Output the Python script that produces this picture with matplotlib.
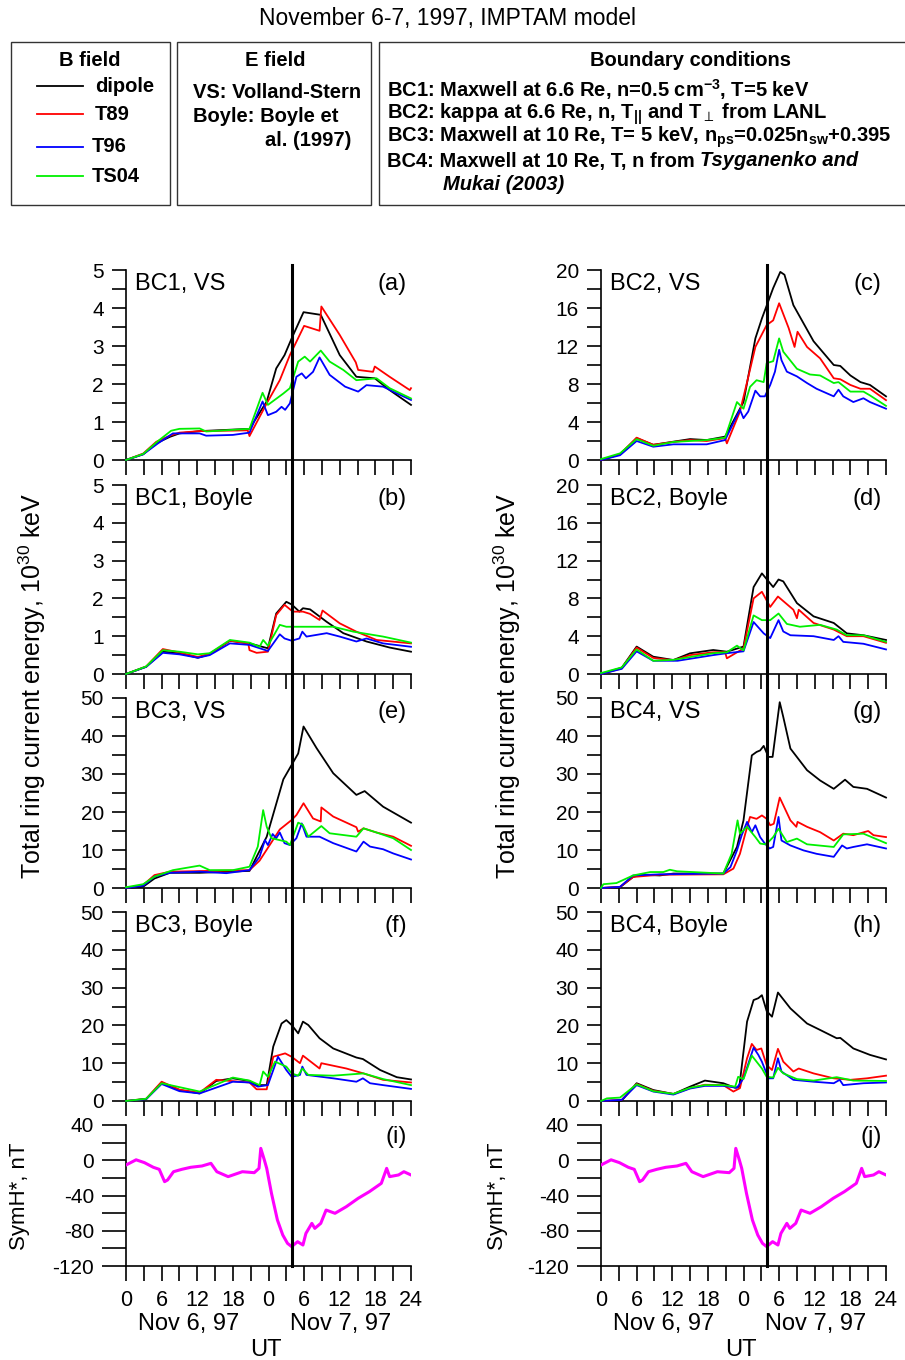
import matplotlib
matplotlib.use("Agg")
import matplotlib.pyplot as plt
import matplotlib.transforms as mtransforms
from matplotlib.patches import Rectangle
from matplotlib.lines import Line2D
from matplotlib.ticker import MultipleLocator, FixedLocator, FixedFormatter, NullFormatter

plt.rcParams['font.family'] = ['Liberation Sans', 'DejaVu Sans']
plt.rcParams['axes.unicode_minus'] = False
plt.rcParams['mathtext.fontset'] = 'custom'
plt.rcParams['mathtext.rm'] = 'Liberation Sans'
plt.rcParams['mathtext.bf'] = 'Liberation Sans:bold'
plt.rcParams['mathtext.it'] = 'Liberation Sans:italic'

# ---------------------------------------------------------------------------
# Data: hours since 00 UT Nov 6, 1997 and total ring current energy (1e30 keV)
# ---------------------------------------------------------------------------
STORM_HOUR = 27.9

X_TICK_LABELS = ['0', '6', '12', '18', '0', '6', '12', '18', '24']
FIELD_MODELS = ['dipole', 'T89', 'T96', 'TS04']
FIELD_COLORS = ['#000000', '#ff0000', '#0000ff', '#00f000']

# (a) BC1, VS
a_dipole = [(0, 0), (2.9, 0.15), (5.1, 0.44), (7.4, 0.61), (9, 0.70), (12.4, 0.76), (20.8, 0.82),
            (23.7, 1.54), (25.3, 2.41), (26.7, 2.76), (27.9, 3.2), (29.9, 3.89), (32.8, 3.82),
            (36, 2.76), (38.8, 2.19), (41.9, 2.15), (44.4, 1.84), (48, 1.45)]
a_t89 = [(0, 0), (2.9, 0.17), (5.1, 0.48), (7.4, 0.64), (9, 0.72), (12.4, 0.76), (20.5, 0.78),
         (20.8, 0.63), (23.7, 1.49), (25.9, 2.1), (27.6, 2.76), (30, 3.53), (32.6, 3.4),
         (32.9, 4.04), (36, 3.29), (38.7, 2.57), (39.1, 2.37), (41.6, 2.32), (41.9, 2.46),
         (44.4, 2.19), (47.8, 1.84), (48, 1.89)]
a_t96 = [(0, 0), (2.9, 0.15), (5.4, 0.44), (7.9, 0.70), (12.4, 0.70), (13.5, 0.64), (18, 0.66),
         (20.8, 0.72), (23, 1.54), (23.9, 1.18), (25.3, 1.27), (26.2, 1.40), (26.8, 1.32),
         (27.6, 1.49), (28.7, 2.19), (29.6, 2.28), (30.3, 2.15), (31.5, 2.32), (32.6, 2.70),
         (34.3, 2.24), (36.9, 1.93), (39.1, 1.80), (40.5, 1.97), (43.3, 1.93), (45, 1.80),
         (48, 1.58)]
a_ts04 = [(0, 0), (2.9, 0.16), (5.4, 0.50), (7.6, 0.77), (9, 0.82), (12.4, 0.83), (13.5, 0.75),
          (20.8, 0.82), (23, 1.77), (23.9, 1.45), (26.5, 1.75), (27.6, 1.89), (29, 2.59),
          (30.1, 2.72), (31, 2.59), (32.8, 2.88), (34.3, 2.59), (36.6, 2.37), (38.8, 2.10),
          (42.2, 2.15), (44.4, 1.89), (48, 1.62)]

# (b) BC1, Boyle
b_dipole = [(0, 0), (3.4, 0.19), (6.2, 0.59), (9, 0.55), (12.1, 0.43), (14.1, 0.52), (17.5, 0.88),
            (20.8, 0.81), (23.9, 0.68), (25.3, 1.60), (27, 1.91), (27.9, 1.84), (29.2, 1.65),
            (29.8, 1.74), (31, 1.71), (33.8, 1.38), (36.6, 1.08), (40.5, 0.86), (44.4, 0.70),
            (48, 0.59)]
b_t89 = [(0, 0), (3.4, 0.20), (6.2, 0.66), (9, 0.57), (12.1, 0.45), (14.1, 0.54), (17.5, 0.88),
         (20.6, 0.80), (20.8, 0.63), (22, 0.56), (23.9, 0.59), (25.3, 1.56), (26.7, 1.83),
         (28.1, 1.65), (29.8, 1.65), (31, 1.59), (32.6, 1.43), (33.1, 1.68), (36, 1.34),
         (38.8, 1.12), (42.2, 0.90), (48, 0.81)]
b_t96 = [(0, 0), (3.4, 0.19), (6.2, 0.56), (9, 0.52), (12.1, 0.43), (14.1, 0.50), (17.5, 0.81),
         (20.8, 0.77), (23.9, 0.61), (25.9, 1.05), (26.7, 0.94), (27.9, 0.88), (29.2, 0.94),
         (29.7, 1.12), (30.4, 0.99), (33.8, 1.08), (36, 0.99), (38.8, 0.86), (40.5, 0.94),
         (43.3, 0.81), (48, 0.72)]
b_ts04 = [(0, 0), (3.4, 0.20), (6.2, 0.63), (9, 0.59), (12.1, 0.52), (14.1, 0.55), (17.5, 0.90),
          (20.8, 0.83), (22.5, 0.72), (23.1, 0.90), (23.9, 0.75), (25.9, 1.30), (27, 1.25),
          (29.2, 1.25), (34.9, 1.25), (38.3, 1.12), (43.3, 0.99), (48, 0.83)]

# (c) BC2, VS
c_dipole = [(0, 0), (3.2, 0.6), (6, 2.3), (8.8, 1.6), (12.2, 1.93), (15, 2.2), (17.8, 2.1),
            (20.9, 2.46), (24, 6.1), (26, 12.8), (27.1, 14.9), (29, 18.1), (30.2, 19.8),
            (30.9, 19.5), (32.4, 16.3), (35.8, 12.5), (39.2, 10.0), (40.3, 9.9), (42, 8.9),
            (43.7, 8.2), (45.3, 7.9), (48, 6.7)]
c_t89 = [(0, 0), (3.2, 0.6), (6, 2.35), (8.8, 1.6), (12.2, 1.9), (15, 2.1), (17.8, 2.0),
         (20.9, 2.3), (21.2, 1.75), (23.4, 5.1), (24.6, 8.2), (26, 11.9), (27.9, 14.2),
         (29, 14.7), (30, 16.5), (31.6, 13.9), (32.6, 11.9), (33.1, 13.5), (34.7, 11.9),
         (36.9, 10.7), (39.2, 8.6), (40.3, 8.5), (42, 7.9), (43.7, 7.5), (45.3, 7.5), (48, 6.3)]
c_t96 = [(0, 0), (3.2, 0.5), (6, 2.0), (8.8, 1.4), (12.2, 1.65), (17.8, 1.65), (20.9, 2.1),
         (23.4, 5.3), (24, 4.4), (24.8, 5.1), (26, 7.3), (26.8, 6.7), (27.6, 6.7), (28.5, 7.9),
         (29.3, 9.3), (30, 11.6), (30.4, 10.5), (31.3, 9.3), (33, 8.8), (34.7, 8.1),
         (36.3, 7.5), (39.2, 6.7), (40, 7.4), (40.8, 6.7), (42.5, 6.1), (44.2, 6.5),
         (45.3, 6.1), (48, 5.4)]
c_ts04 = [(0, 0.1), (3.2, 0.7), (6, 2.2), (8.8, 1.5), (12.2, 1.9), (17.8, 2.1), (20.9, 2.35),
          (22.9, 6.1), (24, 5.4), (25.1, 7.7), (26.2, 8.4), (27.4, 8.2), (27.9, 10.2),
          (29, 10.4), (30, 12.8), (30.7, 11.4), (33, 9.6), (35.2, 9.0), (36.9, 8.9),
          (39.2, 8.1), (40, 8.2), (42, 7.2), (44.2, 7.2), (45.3, 6.8), (48, 5.7)]

# (d) BC2, Boyle
d_dipole = [(0, 0), (3.5, 0.67), (6, 2.9), (8.8, 1.83), (12.2, 1.48), (15, 2.19), (18.9, 2.54),
            (21.2, 2.36), (24, 2.9), (25.7, 9.2), (27.1, 10.65), (29, 9.2), (29.9, 10.0),
            (30.7, 9.8), (33, 7.5), (35.8, 6.1), (39.2, 5.4), (41.4, 4.3), (44.2, 4.1), (48, 3.6)]
d_t89 = [(0, 0), (3.5, 0.6), (6, 2.8), (8.8, 1.7), (12.2, 1.45), (15, 2.0), (18.9, 2.3),
         (20.9, 2.3), (21.2, 1.66), (24, 2.7), (25.7, 8.0), (27.1, 8.7), (28.5, 7.1),
         (29.8, 8.2), (32.4, 6.8), (33, 5.9), (33.3, 6.8), (35.8, 5.4), (39.2, 4.7),
         (41.4, 4.0), (44.2, 4.0), (48, 3.3)]
d_t96 = [(0, 0), (3.5, 0.55), (6, 2.4), (8.8, 1.4), (12.9, 1.4), (18.9, 2.0), (21.2, 2.2),
         (24, 2.4), (25.7, 5.5), (27.4, 4.3), (28.5, 3.8), (29.9, 5.7), (30.7, 4.5),
         (31.9, 4.1), (35.8, 4.0), (39.2, 3.6), (40, 4.0), (40.8, 3.4), (44.2, 3.2), (48, 2.6)]
d_ts04 = [(0, 0.1), (3.5, 0.7), (6, 2.6), (8.8, 1.4), (12.2, 1.5), (18.9, 2.2), (21.2, 2.3),
          (22.9, 3.0), (24, 2.5), (25.7, 6.2), (27.1, 5.7), (28.5, 5.7), (29.9, 6.4),
          (31.3, 5.3), (33.5, 5.0), (36.9, 5.2), (39.7, 4.7), (41.4, 4.1), (44.2, 4.1), (48, 3.4)]

# (e) BC3, VS
e_dipole = [(0, 0), (2.9, 0.35), (4.8, 2.5), (7.4, 4.0), (12.4, 4.0), (20.8, 4.5), (23.7, 13.5),
            (26.5, 28.6), (27.9, 32.4), (29, 35.4), (29.9, 42.5), (32.1, 36.8), (34.9, 30.2),
            (38.8, 24.5), (40.2, 25.5), (43.3, 21.4), (48, 17.2)]
e_t89 = [(0, 0), (2.9, 0.8), (4.8, 3.4), (7.4, 4.3), (20.8, 4.7), (22.5, 7.2), (24.2, 11.3),
         (25.9, 15.4), (27.9, 17.9), (28.7, 19.2), (29.9, 22.3), (31.5, 18.3), (32.8, 17.5),
         (32.9, 21.2), (34.9, 18.8), (38.8, 16.0), (39.1, 14.8), (40, 15.7), (42.2, 14.6),
         (45, 13.5), (48, 11.1)]
e_t96 = [(0, 0), (2.9, 0.6), (4.8, 3.0), (7.4, 4.0), (12.4, 4.3), (16.9, 3.9), (20.8, 4.7),
         (22.5, 8.2), (23.4, 12.6), (23.9, 11.3), (24.7, 14.2), (25.3, 13.1), (25.9, 14.6),
         (26.7, 11.8), (27.6, 11.3), (28.7, 13.1), (29.6, 17.0), (30.4, 13.5), (32.6, 13.5),
         (34.9, 11.8), (38.8, 9.6), (40, 12.2), (41.1, 10.9), (43.3, 10.2), (45, 9.1), (48, 7.5)]
e_ts04 = [(0, 0.2), (2.9, 1.0), (4.8, 3.0), (7.9, 4.7), (12.4, 5.9), (14.1, 4.7), (18, 4.7),
          (20.8, 5.6), (22.2, 10.9), (23.1, 20.5), (23.7, 16.1), (24.5, 13.1), (27, 12.2),
          (27.6, 11.3), (29, 17.2), (29.8, 16.6), (30.7, 13.5), (32.9, 16.3), (34.3, 14.4),
          (38.8, 13.5), (40, 15.7), (42.2, 14.6), (45, 13.1), (48, 10.0)]

# (f) BC3, Boyle
f_dipole = [(0, 0), (3.4, 0.5), (6, 4.9), (9, 2.9), (12.4, 2.0), (15.2, 5.3), (18, 6.0),
            (20.8, 5.3), (22, 4.2), (23.7, 4.2), (24.8, 14.4), (26.2, 20.5), (27, 21.4),
            (27.9, 20.1), (29, 17.9), (29.8, 21.0), (30.7, 20.1), (32.6, 16.6), (34.9, 13.9),
            (38.8, 11.5), (39.9, 11.1), (42.8, 8.2), (45.6, 6.3), (48, 5.7)]
f_t89 = [(0, 0), (3.4, 0.6), (6, 5.1), (9, 3.0), (12.4, 2.2), (15.2, 5.6), (20.8, 4.9),
         (22, 3.1), (23.7, 3.1), (24.8, 11.7), (26.8, 12.6), (27.9, 11.7), (29.3, 10.0),
         (29.8, 12.0), (32.6, 8.6), (32.9, 10.0), (37.1, 8.6), (40, 7.3), (43.3, 5.6), (48, 4.9)]
f_t96 = [(0, 0), (3.4, 0.5), (6, 4.5), (9, 2.6), (12.4, 2.0), (18, 5.1), (20.8, 4.9),
         (22.2, 3.8), (23.9, 4.2), (25.6, 11.7), (27, 8.2), (27.9, 6.4), (29.3, 6.9),
         (29.7, 9.1), (30.4, 6.9), (34.9, 6.0), (38.8, 5.1), (39.9, 6.0), (41.1, 4.7),
         (43.3, 4.2), (48, 3.2)]
f_ts04 = [(0, 0), (3.4, 0.6), (6, 4.7), (12.4, 2.5), (18, 6.2), (20.8, 5.4), (22.5, 4.2),
          (23.1, 7.8), (23.9, 6.4), (25.1, 10.4), (27, 9.1), (27.9, 7.3), (29, 6.7),
          (29.7, 8.6), (30.7, 6.9), (34.9, 6.7), (40, 7.3), (43.3, 5.8), (48, 4.2)]

# (g) BC4, VS
g_dipole = [(0, 0), (3.2, 0.2), (5.4, 2.9), (6.6, 3.5), (9.9, 3.3), (12.2, 3.8), (20.6, 3.8),
            (22.9, 10.8), (24, 17.8), (25.4, 34.9), (26.2, 35.8), (26.8, 36.2), (27.4, 37.4),
            (28.2, 34.5), (28.9, 34.5), (30.1, 48.9), (30.7, 45.0), (31.9, 36.7), (34.7, 31.0),
            (36.9, 28.3), (39.2, 26.1), (41.1, 28.5), (42.5, 26.6), (44.8, 26.1), (48, 23.8)]
g_t89 = [(0, 0), (3.2, 0.3), (5.4, 2.9), (9.9, 3.5), (20.6, 3.6), (22.3, 5.1), (23.4, 9.0),
         (24.3, 14.3), (25.1, 18.7), (26.2, 18.2), (27.1, 19.1), (27.9, 18.2), (28.5, 16.5),
         (29.1, 16.9), (30.1, 23.8), (30.7, 21.8), (31.9, 17.8), (32.9, 16.1), (33.1, 17.4),
         (34.7, 16.1), (36.9, 14.7), (39.2, 12.5), (40.8, 14.3), (42.5, 13.9), (45, 15.0),
         (45.9, 13.9), (48, 13.4)]
g_t96 = [(0, 0), (3.2, 0.3), (5.4, 3.3), (9.9, 3.6), (20.6, 3.8), (21.8, 5.5), (22.9, 9.9),
         (23.7, 13.9), (24.6, 17.4), (25.4, 14.7), (26, 16.5), (26.8, 13.4), (27.6, 11.7),
         (28.4, 10.4), (29, 10.8), (29.9, 18.7), (30.4, 12.5), (31.9, 11.2), (34.1, 9.9),
         (36.3, 9.0), (39.2, 8.2), (40.6, 11.2), (41.4, 10.4), (42.5, 10.8), (44.8, 11.5),
         (48, 10.4)]
g_ts04 = [(0, 0), (0.4, 1.0), (2.6, 1.3), (5.4, 3.3), (8.3, 4.2), (10.5, 4.2), (11.6, 4.8),
          (12.8, 4.4), (20.6, 3.8), (22, 9.0), (23, 17.8), (23.4, 14.3), (24.6, 16.1),
          (26, 13.4), (26.8, 11.7), (27.6, 11.5), (28.2, 12.1), (29, 13.4), (29.9, 15.6),
          (31.3, 12.1), (33, 13.0), (34.7, 11.5), (39.2, 10.8), (40.8, 14.1), (44.2, 14.3),
          (48, 11.8)]

# (h) BC4, Boyle
h_dipole = [(0, 0), (3.5, 0.1), (6, 4.7), (8.8, 2.9), (12.2, 1.85), (15, 3.8), (17.5, 5.4),
            (20.6, 4.7), (22.6, 3.5), (23.3, 3.8), (24.6, 21.0), (25.7, 26.7), (26.5, 27.2),
            (27.1, 28.0), (27.9, 23.8), (28.8, 22.3), (29.8, 28.7), (31.9, 24.5), (34.7, 20.5),
            (36.9, 18.8), (39.7, 16.6), (40.3, 16.7), (42.5, 13.9), (45.3, 12.2), (48, 11.0)]
h_t89 = [(0, 0), (3.5, 0.3), (6, 4.5), (8.8, 2.7), (12.2, 1.85), (15, 3.4), (17.5, 4.3),
         (20.6, 4.2), (22.3, 2.5), (23.4, 3.4), (24.6, 11.3), (25.4, 15.1), (26.2, 13.5),
         (27, 13.9), (27.9, 9.5), (28.8, 8.2), (29.8, 13.8), (30.7, 10.4), (32.4, 7.8),
         (33.3, 8.6), (35.8, 7.3), (39.2, 6.0), (42, 5.6), (44.8, 6.0), (48, 6.7)]
h_t96 = [(0, 0), (3.5, 0.3), (6, 4.2), (8.8, 2.5), (12.2, 1.7), (15, 3.3), (17.5, 4.0),
         (20.6, 4.0), (22.9, 3.5), (24, 6.0), (25.7, 14.1), (26.5, 12.2), (27.1, 10.4),
         (28.2, 6.0), (29, 6.0), (29.8, 11.3), (30.4, 7.8), (32.4, 5.6), (35.8, 5.1),
         (39.2, 4.7), (40.2, 5.6), (40.8, 4.2), (44.2, 4.7), (48, 4.9)]
h_ts04 = [(0, 0), (1, 0.7), (3.2, 0.9), (6, 4.4), (8.8, 2.6), (12.2, 1.9), (15, 3.5),
          (17.5, 4.2), (20.6, 4.2), (22.6, 3.8), (23.1, 6.4), (24, 5.8), (25.4, 12.0),
          (26.2, 10.4), (27.1, 8.6), (27.9, 6.4), (29, 6.2), (29.8, 8.8), (30.7, 7.3),
          (33, 5.8), (35.8, 5.4), (39.7, 6.3), (42.5, 5.4), (48, 5.3)]

# SymH* index (nT)
symh = [(0, -5.4), (1.7, 0.5), (3.1, -2.7), (4.6, -8.0), (5.6, -10.3), (6.5, -24.3), (7.0, -22.4),
        (8.0, -13.0), (9.4, -10.3), (10.9, -8.0), (12.8, -6.5), (14.3, -3.5), (15.3, -13.0),
        (17.2, -18.6), (19.6, -13.0), (21.6, -14.1), (22.4, -9.2), (22.7, 13.5), (23.3, 0.3),
        (23.7, -9.2), (24.5, -37.5), (25.5, -67.8), (26.4, -84.8), (27.2, -94.3), (27.9, -98.0),
        (28.9, -92.4), (29.8, -96.2), (30.3, -83.0), (31.3, -71.6), (31.8, -77.3), (32.8, -71.6),
        (33.7, -56.5), (35.2, -60.2), (37.1, -52.7), (39.1, -43.2), (41.0, -35.6), (43.0, -26.2),
        (43.9, -9.2), (44.4, -18.6), (45.9, -16.7), (46.8, -13.0), (48, -16.7)]

# ---------------------------------------------------------------------------
W, H = 905, 1360
fig = plt.figure(figsize=(W / 100, H / 100), dpi=100)


def fx(px):
    return px / W


def fy(py):
    return 1 - py / H


def make_axes(left_px, top_px, bottom_px):
    return fig.add_axes([fx(left_px), fy(bottom_px), fx(left_px + 285) - fx(left_px),
                         fy(top_px) - fy(bottom_px)])


TICK_FS = 15


def style_axes(ax, ylim, major, minor, show_xlabels=False, ytick_len=10):
    for side in ('top', 'right'):
        ax.spines[side].set_visible(False)
    for side in ('left', 'bottom'):
        ax.spines[side].set_linewidth(1.2)
    ax.set_xlim(0, 48)
    ax.set_ylim(*ylim)
    ax.yaxis.set_major_locator(MultipleLocator(major))
    ax.yaxis.set_minor_locator(MultipleLocator(minor))
    ax.xaxis.set_major_locator(FixedLocator([0, 6, 12, 18, 24, 30, 36, 42, 48]))
    ax.xaxis.set_minor_locator(MultipleLocator(3))
    if show_xlabels:
        ax.xaxis.set_major_formatter(FixedFormatter(X_TICK_LABELS))
    else:
        ax.xaxis.set_major_formatter(NullFormatter())
    ax.tick_params(which='both', direction='out', width=1.2)
    ax.tick_params(axis='x', which='both', length=10.5)
    ax.tick_params(axis='y', which='both', length=ytick_len)
    ax.tick_params(axis='y', labelsize=TICK_FS, pad=6)
    ax.tick_params(axis='x', labelsize=TICK_FS + 0.5, pad=6.5)
    ax.patch.set_alpha(0)


def energy_panel(ax, series, ylim, major, minor, name, letter):
    for pts, color in zip(series, FIELD_COLORS):
        t = [p[0] for p in pts]
        v = [p[1] for p in pts]
        ax.plot(t, v, color=color, lw=1.3, clip_on=False, zorder=3)
    style_axes(ax, ylim, major, minor)
    ax.text(0.03, 0.925, name, transform=ax.transAxes, fontsize=17, va='center', ha='left')
    ax.text(0.985, 0.925, letter, transform=ax.transAxes, fontsize=17, va='center', ha='right')


LEFT_X, RIGHT_X = 126, 601
ROWS = [(270, 460), (485, 674), (698, 888), (912, 1101)]

panels = [
    (LEFT_X, ROWS[0], [a_dipole, a_t89, a_t96, a_ts04], (0, 5), 1, 0.5, 'BC1, VS', '(a)'),
    (LEFT_X, ROWS[1], [b_dipole, b_t89, b_t96, b_ts04], (0, 5), 1, 0.5, 'BC1, Boyle', '(b)'),
    (LEFT_X, ROWS[2], [e_dipole, e_t89, e_t96, e_ts04], (0, 50), 10, 5, 'BC3, VS', '(e)'),
    (LEFT_X, ROWS[3], [f_dipole, f_t89, f_t96, f_ts04], (0, 50), 10, 5, 'BC3, Boyle', '(f)'),
    (RIGHT_X, ROWS[0], [c_dipole, c_t89, c_t96, c_ts04], (0, 20), 4, 2, 'BC2, VS', '(c)'),
    (RIGHT_X, ROWS[1], [d_dipole, d_t89, d_t96, d_ts04], (0, 20), 4, 2, 'BC2, Boyle', '(d)'),
    (RIGHT_X, ROWS[2], [g_dipole, g_t89, g_t96, g_ts04], (0, 50), 10, 5, 'BC4, VS', '(g)'),
    (RIGHT_X, ROWS[3], [h_dipole, h_t89, h_t96, h_ts04], (0, 50), 10, 5, 'BC4, Boyle', '(h)'),
]

for left, (top, bottom), series, ylim, major, minor, name, letter in panels:
    ax = make_axes(left, top, bottom)
    energy_panel(ax, series, ylim, major, minor, name, letter)

# SymH* panels, date labels and the storm-time marker
for left, letter, label_x in ((LEFT_X, '(i)', 20), (RIGHT_X, '(j)', 497)):
    ax = make_axes(left, 1125, 1266)
    ax.plot([p[0] for p in symh], [p[1] for p in symh], color='#ff00ff', lw=2.2, zorder=3)
    style_axes(ax, (-120, 40), 40, 20, show_xlabels=True, ytick_len=17)
    ax.text(0.985, 0.915, letter, transform=ax.transAxes, fontsize=17, va='center', ha='right')
    fig.text(fx(label_x), fy(1196), 'SymH*, nT', rotation=90, ha='center', va='center',
             fontsize=16)
    blend = mtransforms.blended_transform_factory(ax.transData, fig.transFigure)
    ax.text(10.5, fy(1324), 'Nov 6, 97', transform=blend, ha='center', va='center', fontsize=17)
    ax.text(36.1, fy(1324), 'Nov 7, 97', transform=blend, ha='center', va='center', fontsize=17)
    ax.text(23.6, fy(1350), 'UT', transform=blend, ha='center', va='center', fontsize=17)
    fig.add_artist(Line2D([STORM_HOUR, STORM_HOUR], [fy(1266), fy(265)], transform=blend,
                          color='black', lw=2.2, zorder=10))

# Energy axis labels
for xpx in (32, 507):
    fig.text(fx(xpx), fy(686), 'Total ring current energy, 10$^{30}$ keV', rotation=90,
             ha='center', va='center', fontsize=18)

# Title
fig.text(fx(447), fy(18), 'November 6-7, 1997, IMPTAM model', ha='center', va='center',
         fontsize=16.5)

# Legend boxes
for x0, x1 in ((11, 170), (177, 371), (379, 915)):
    fig.add_artist(Rectangle((fx(x0), fy(205)), fx(x1) - fx(x0), fy(42) - fy(205),
                             transform=fig.transFigure, fill=False, edgecolor='#333333', lw=1.0))

BFS = 14.5
fig.text(fx(90), fy(60), 'B field', ha='center', va='center', fontsize=BFS, fontweight='bold')
for (name, color), ypx, xt in zip(zip(FIELD_MODELS, FIELD_COLORS), (86, 114, 147, 176),
                                  (95, 95, 92, 92)):
    fig.add_artist(Line2D([fx(37), fx(83)], [fy(ypx), fy(ypx)], transform=fig.transFigure,
                          color=color, lw=1.3))
    fig.text(fx(xt), fy(ypx), name, ha='left', va='center', fontsize=BFS, fontweight='bold')

fig.text(fx(275), fy(60), 'E field', ha='center', va='center', fontsize=BFS, fontweight='bold')
fig.text(fx(193), fy(93), 'VS: Volland-Stern', ha='left', va='center', fontsize=BFS,
         fontweight='bold')
fig.text(fx(193), fy(117), 'Boyle: Boyle et', ha='left', va='center', fontsize=BFS,
         fontweight='bold')
fig.text(fx(265), fy(140), 'al. (1997)', ha='left', va='center', fontsize=BFS, fontweight='bold')

fig.text(fx(690), fy(60), 'Boundary conditions', ha='center', va='center', fontsize=BFS,
         fontweight='bold')
fig.text(fx(387), fy(90), r'BC1: Maxwell at 6.6 Re, n=0.5 cm$^{\mathbf{-3}}$, T=5 keV',
         ha='left', va='center', fontsize=BFS, fontweight='bold')
fig.text(fx(387), fy(114),
         r'BC2: kappa at 6.6 Re, n, T$_{\mathbf{||}}$ and T$_{\perp}$ from LANL',
         ha='left', va='center', fontsize=BFS, fontweight='bold')
fig.text(fx(387), fy(137),
         r'BC3: Maxwell at 10 Re, T= 5 keV, n$_{\mathbf{ps}}$=0.025n$_{\mathbf{sw}}$+0.395',
         ha='left', va='center', fontsize=BFS, fontweight='bold')
bc4 = fig.text(fx(387), fy(161), 'BC4: Maxwell at 10 Re, T, n from ', ha='left', va='center',
               fontsize=BFS, fontweight='bold')
fig.axes[0].annotate('Tsyganenko and', xy=(1, 0), xycoords=bc4, ha='left', va='bottom',
                     fontsize=BFS, fontweight='bold', fontstyle='italic', annotation_clip=False)
fig.text(fx(443), fy(185), 'Mukai (2003)', ha='left', va='center', fontsize=BFS,
         fontweight='bold', fontstyle='italic')

fig.savefig('out.png', dpi=100)
